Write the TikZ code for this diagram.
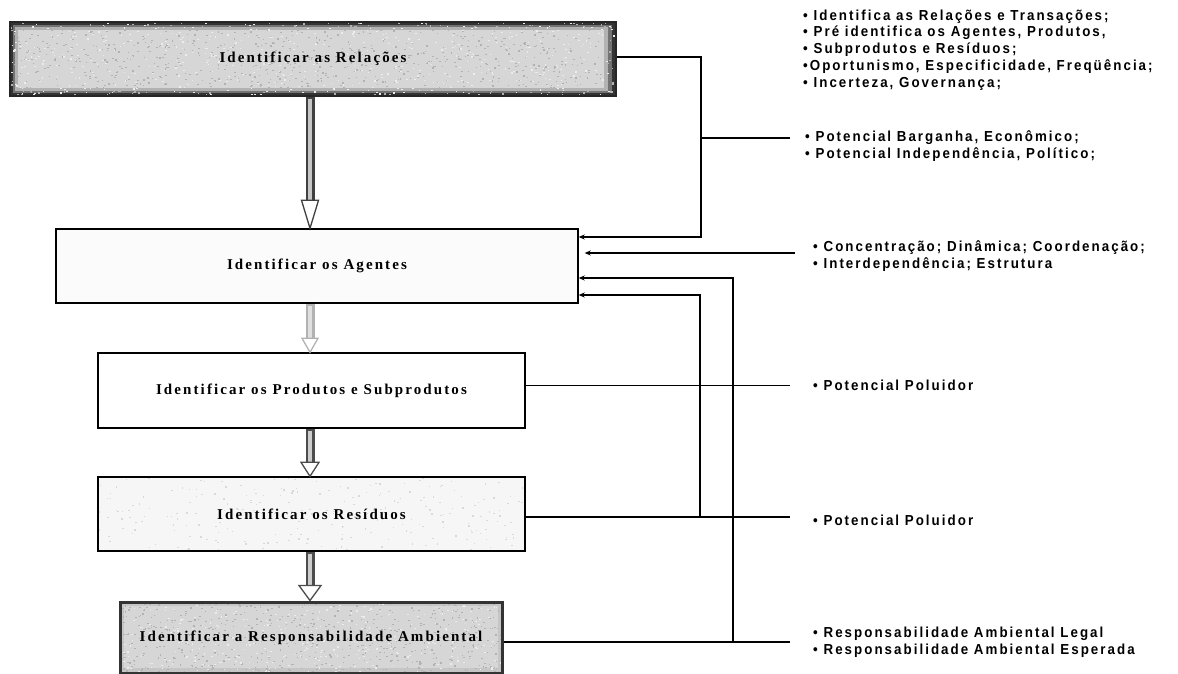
\documentclass[tikz,border=0pt]{standalone}
\usepackage{fontspec}
\setmainfont{Liberation Serif}
\newfontfamily\boxfont[LetterSpace=14]{Liberation Serif}
\newfontfamily\notefont[FakeStretch=0.92,LetterSpace=14]{Liberation Sans}
\usetikzlibrary{arrows.meta,calc}

% inset fill inside a node's path picture: left, bottom, right, top, colour
\newcommand\insetfill[5]{%
  \fill[#5] ([shift={(#1,#2)}]path picture bounding box.south west)
    rectangle ([shift={(-#3,-#4)}]path picture bounding box.north east);}
% grainy speckle inside a node's path picture: count, colour
\newcommand\grain[2]{%
  \path (path picture bounding box.south west) coordinate (gsw)
        (path picture bounding box.north east) coordinate (gne);
  \foreach \k in {1,...,#1}{%
    \fill[#2] let \p1=(gsw), \p2=(gne) in
      ({\x1+rnd*(\x2-\x1)},{\y1+rnd*(\y2-\y1)}) rectangle ++(1.6pt,1.2pt);}}

\tikzset{
  stagebox/.style={draw=black, line width=1.4pt, fill=white, inner sep=0pt,
    font=\boxfont\bfseries\fontsize{15}{17}\selectfont},
  shadedbox/.style={stagebox, draw=black!85, fill=black!80,
    path picture={
      \insetfill{3pt}{3pt}{4pt}{3pt}{black!55}
      \insetfill{5pt}{5pt}{8pt}{5pt}{gray!60}
      \insetfill{8pt}{8pt}{12pt}{8pt}{gray!32}
      \pgfmathsetseed{11}
      \grain{900}{gray!60}
      \grain{500}{white!85!gray}}},
  framedbox/.style={stagebox, draw=black!80, line width=3pt, fill=gray!45,
    path picture={
      \insetfill{4pt}{5pt}{4pt}{4pt}{gray!32}
      \pgfmathsetseed{5}
      \grain{600}{gray!60}
      \grain{350}{white!85!gray}}},
  lightbox/.style={stagebox, fill=gray!7,
    path picture={\pgfmathsetseed{3}\grain{250}{gray!30}}},
  note/.style={anchor=west, align=left, inner sep=0pt,
    font=\notefont\bfseries\fontsize{14.5}{16.8}\selectfont},
  link/.style={line width=1.5pt, draw=black},
  tipin/.style={-{Stealth[length=6pt,width=5pt]}},
}

% vertical flow arrow: start, tip, head length, head half width, edge colour, core colour
\newcommand\flowdown[6]{%
  \draw[line width=9pt,#5] (#1) -- ([yshift=#3]#2);
  \draw[line width=3.5pt,#6] ([yshift=-2pt]#1) -- ([yshift=#3]#2);
  \filldraw[fill=white, draw=#5, line width=1.3pt, line join=miter]
    ([xshift=-#4,yshift=#3]#2) -- (#2) -- ([xshift=#4,yshift=#3]#2) -- cycle;}

\begin{document}
\begin{tikzpicture}[x=1pt,y=-1pt]
\useasboundingbox (0,0) rectangle (1178,673);
\fill[white] (0,0) rectangle (1178,673);

% stages
\node[shadedbox, minimum width=606pt, minimum height=74pt] (r1) at (313,59) {Identificar as Relações};
\node[stagebox, fill=gray!3, minimum width=522pt, minimum height=74pt] (r2) at (317,266) {Identificar os Agentes};
\node[stagebox, minimum width=427pt, minimum height=75pt] (r3) at (311.5,390.5) {Identificar os Produtos e Subprodutos};
\node[lightbox, minimum width=427pt, minimum height=74pt] (r4) at (311.5,514) {Identificar os Resíduos};
\node[framedbox, minimum width=382pt, minimum height=71pt] (r5) at (311,637.5) {Identificar a Responsabilidade Ambiental};

% notes
\node[note] (n1) at (803,50) {• Identifica as Relações e Transações;\\
  • Pré identifica os Agentes, Produtos,\\
  • Subprodutos e Resíduos;\\
  •Oportunismo, Especificidade, Freqüência;\\
  • Incerteza, Governança;};
\node[note] (n2) at (805,146) {• Potencial Barganha, Econômico;\\
  • Potencial Independência, Político;};
\node[note] (n3) at (813,256) {• Concentração; Dinâmica; Coordenação;\\
  • Interdependência; Estrutura};
\node[note] (n4) at (813,385) {• Potencial Poluidor};
\node[note] (n5) at (813,520) {• Potencial Poluidor};
\node[note] (n6) at (813,642) {• Responsabilidade Ambiental Legal\\
  • Responsabilidade Ambiental Esperada};

% flow arrows between stages
\coordinate (ax) at (310,0);
\coordinate (a1s) at (ax |- r1.south);
\coordinate (a1e) at (ax |- r2.north);
\coordinate (a2s) at (ax |- r2.south);
\coordinate (a2e) at (ax |- r3.north);
\coordinate (a3s) at (ax |- r3.south);
\coordinate (a3e) at (ax |- r4.north);
\coordinate (a4s) at (ax |- r4.south);
\coordinate (a4e) at (ax |- r5.north);
\flowdown{a1s}{a1e}{28pt}{8.5pt}{black!75}{gray!45}
\flowdown{a2s}{a2e}{14pt}{8pt}{gray!60}{gray!25}
\flowdown{a3s}{a3e}{14pt}{9pt}{black!70}{gray!40}
\flowdown{a4s}{a4e}{15pt}{11pt}{black!70}{gray!40}

% side connectors
\coordinate (bus1) at (701,237);
\coordinate (br1) at (701,138);
\coordinate (br1e) at (790,138);
\coordinate (cin) at (795,253);
\coordinate (bus2) at (700,295);
\coordinate (bus3) at (733,278);
\coordinate (ex) at (790,0);

\draw[link, tipin] ([yshift=2pt]r1.east) -| (bus1) -- (r2.east |- bus1);
\draw[link] (br1) -- (br1e);
\draw[link, tipin, shorten >=6pt] (cin) -- (r2.east |- cin);
\draw[link] ([yshift=5pt]r3.east) -- ([yshift=5pt]r3.east -| ex);
\draw[link] ([yshift=-3pt]r4.east) -- ([yshift=-3pt]r4.east -| ex);
\draw[link, tipin] ([yshift=-3pt]r4.east -| bus2) -- (bus2) -- (r2.east |- bus2);
\draw[link] ([yshift=-4.5pt]r5.east) -- ([yshift=-4.5pt]r5.east -| ex);
\draw[link, tipin] ([yshift=-4.5pt]r5.east -| bus3) -- (bus3) -- (r2.east |- bus3);
\end{tikzpicture}
\end{document}
